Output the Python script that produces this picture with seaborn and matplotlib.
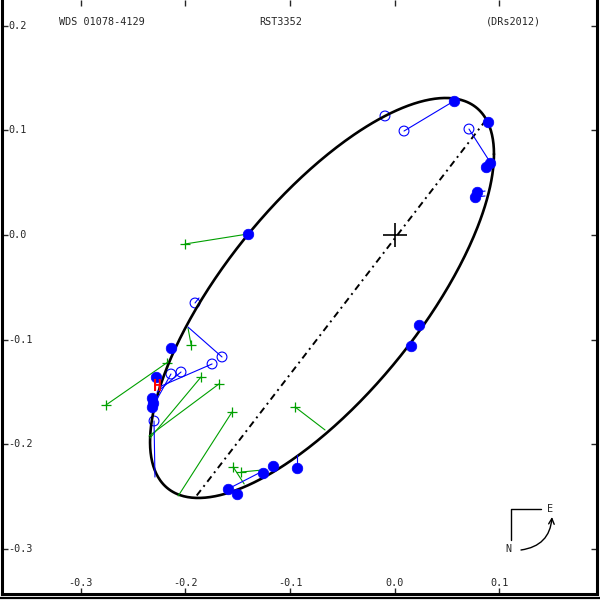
import numpy as np
import pandas as pd
import matplotlib
matplotlib.use("Agg")
import matplotlib.pyplot as plt
from matplotlib.lines import Line2D
import seaborn as sns

# apparent orbit ellipse (arcsec): centre, half extents in x / y, phase lag of y
ell_center = (-0.0694, -0.0602)
ell_half_x = 0.1644
ell_half_y = 0.1912
ell_phase_deg = 44.0

# line of nodes, drawn through the primary
nodes_x = [0.0874, -0.1910]
nodes_y = [0.1100, -0.2514]

# speckle measures (filled dots) and computed positions on the orbit
speckle_x = [0.0568, 0.0893, 0.0874, 0.0912, 0.0769, 0.0788, -0.1400, -0.2138, -0.2281,
             -0.2319, -0.2310, -0.2319, -0.1593, -0.1507, -0.1258, -0.1163, -0.0933, 0.0233, 0.0157]
speckle_y = [0.1281, 0.1080, 0.0650, 0.0688, 0.0363, 0.0411, 0.0010, -0.1080, -0.1358,
             -0.1558, -0.1606, -0.1644, -0.2428, -0.2476, -0.2275, -0.2208, -0.2228, -0.0860, -0.1061]
speckle_cx = [0.0568, 0.0893, 0.0912, 0.0912, 0.0865, 0.0865, -0.1400, -0.2138, -0.2281,
              -0.2319, -0.2310, -0.2319, -0.1258, -0.1507, -0.1258, -0.1163, -0.0933, 0.0233, 0.0157]
speckle_cy = [0.1281, 0.1080, 0.0688, 0.0688, 0.0373, 0.0420, 0.0010, -0.1080, -0.1358,
              -0.1558, -0.1606, -0.1644, -0.2256, -0.2476, -0.2275, -0.2208, -0.2103, -0.0860, -0.1061]

# other interferometric measures (open circles)
interf_x = [-0.0092, 0.0090, 0.0711, -0.1908, -0.1650, -0.1745, -0.2042, -0.2138, -0.2300]
interf_y = [0.1138, 0.0994, 0.1013, -0.0650, -0.1166, -0.1233, -0.1310, -0.1329, -0.1778]
interf_cx = [-0.0092, 0.0568, 0.0912, -0.1870, -0.1975, -0.2252, -0.2271, -0.2319, -0.2291]
interf_cy = [0.1138, 0.1281, 0.0698, -0.0602, -0.0880, -0.1453, -0.1501, -0.1654, -0.2314]

# visual micrometer measures (green crosses)
visual_x = [-0.2004, -0.2759, -0.2175, -0.1945, -0.1851, -0.1679, -0.1554, -0.0952, -0.1543, -0.1467]
visual_y = [-0.0086, -0.1625, -0.1224, -0.1052, -0.1358, -0.1424, -0.1692, -0.1644, -0.2218, -0.2266]
visual_cx = [-0.1400, -0.2166, -0.2166, -0.1975, -0.2338, -0.2348, -0.2069, -0.0665, -0.1438, -0.1267]
visual_cy = [0.0010, -0.1214, -0.1214, -0.0889, -0.1941, -0.1922, -0.2495, -0.1864, -0.2380, -0.2247]

# Hipparcos measure
hip_x, hip_y = -0.2272, -0.1453

xtick_vals = [-0.3, -0.2, -0.1, 0.0, 0.1]
xtick_labels = ["-0.3", "-0.2", "-0.1", "0.0", "0.1"]
ytick_vals = [0.2, 0.1, 0.0, -0.1, -0.2, -0.3]
ytick_labels = ["0.2", "0.1", "0.0", "-0.1", "-0.2", "-0.3"]

BLUE = "#0000ff"
GREEN = "#00a000"

sns.set_style("white")
plt.rcParams["font.family"] = ["DejaVu Sans Mono"]

fig = plt.figure(figsize=(6, 6), dpi=100)
ax = fig.add_axes([1.5 / 600, 6 / 600, 595.5 / 600, 594 / 600])

# pixel geometry of the original plot: 1046 px per arcsec, primary at (394.6, 235)
scale = 1046.0
ox, oy = 394.6, 235.0
ax.set_xlim((1.5 - ox) / scale, (597 - ox) / scale)
ax.set_ylim((oy - 594) / scale, oy / scale)

# orbit
t = np.linspace(0, 2 * np.pi, 500)
ell = pd.DataFrame({
    "x": ell_center[0] + ell_half_x * np.cos(t),
    "y": ell_center[1] + ell_half_y * np.cos(t - np.radians(ell_phase_deg)),
})
sns.lineplot(data=ell, x="x", y="y", sort=False, estimator=None, color="black", lw=1.9, ax=ax)

# line of nodes
ax.plot(nodes_x, nodes_y, color="black", lw=1.4, linestyle=(0, (3.5, 2.2, 1, 2.2)))

# O-C lines
for xs, ys, cxs, cys, col in [(visual_x, visual_y, visual_cx, visual_cy, GREEN),
                               (interf_x, interf_y, interf_cx, interf_cy, BLUE),
                               (speckle_x, speckle_y, speckle_cx, speckle_cy, BLUE)]:
    for a, b, c, d in zip(xs, ys, cxs, cys):
        ax.plot([a, c], [b, d], color=col, lw=0.8)

sns.scatterplot(x=visual_x, y=visual_y, marker="+", s=45, color=GREEN, linewidth=0.9, ax=ax)
sns.scatterplot(x=interf_x, y=interf_y, marker="o", s=50, facecolor="none", edgecolor=BLUE,
                linewidth=0.8, ax=ax)
sns.scatterplot(x=speckle_x, y=speckle_y, marker="o", s=58, color=BLUE, edgecolor=BLUE,
                linewidth=0.5, ax=ax, zorder=5)
ax.text(hip_x, hip_y, "H", color="red", fontsize=10.5, fontweight="bold", ha="center", va="center",
        zorder=6)

# primary
ax.plot(0, 0, marker="+", ms=17, mew=1.2, color="black")

# frame and ticks
for side in ["left", "right", "bottom"]:
    ax.spines[side].set_linewidth(2.2)
    ax.spines[side].set_color("black")
ax.spines["top"].set_visible(False)
fig.add_artist(Line2D([0, 1], [2 / 600, 2 / 600], color="black", lw=1.6))

ax.set_xticks(xtick_vals)
ax.set_yticks(ytick_vals)
ax.tick_params(direction="in", length=4.5, width=1.0, top=True, right=True, bottom=True, left=True,
               labelbottom=False, labelleft=False)
ax.set_xlabel("")
ax.set_ylabel("")

fs = 7.3
for v, lab in zip(xtick_vals, xtick_labels):
    ax.text(v, (594 - 583) / 594, lab, transform=ax.get_xaxis_transform(), ha="center", va="center",
            fontsize=fs)
for v, lab in zip(ytick_vals, ytick_labels):
    ax.text((8 - 1.5) / 595.5, v, lab, transform=ax.get_yaxis_transform(), ha="left", va="center",
            fontsize=fs)

def axpt(px, py):
    return ((px - 1.5) / 595.5, (594 - py) / 594)

ax.text(*axpt(59, 22), "WDS 01078-4129", transform=ax.transAxes, ha="left", va="center", fontsize=fs)
ax.text(*axpt(281, 22), "RST3352", transform=ax.transAxes, ha="center", va="center", fontsize=fs)
ax.text(*axpt(486, 22), "(DRs2012)", transform=ax.transAxes, ha="left", va="center", fontsize=fs)

# orientation sign
c0, c1, c2 = axpt(511, 509), axpt(541, 509), axpt(511, 540)
ax.plot([c1[0], c0[0], c2[0]], [c1[1], c0[1], c2[1]], color="black", lw=1.0, transform=ax.transAxes)
ax.text(*axpt(550, 509), "E", transform=ax.transAxes, ha="center", va="center", fontsize=fs)
ax.text(*axpt(508, 549), "N", transform=ax.transAxes, ha="center", va="center", fontsize=fs)
ax.annotate("", xy=axpt(552, 517), xytext=axpt(521, 550), xycoords="axes fraction",
            textcoords="axes fraction",
            arrowprops=dict(arrowstyle="->", color="black", lw=1.0, shrinkA=0, shrinkB=0,
                            connectionstyle="arc3,rad=0.4"))

fig.savefig("out.png", dpi=100)
